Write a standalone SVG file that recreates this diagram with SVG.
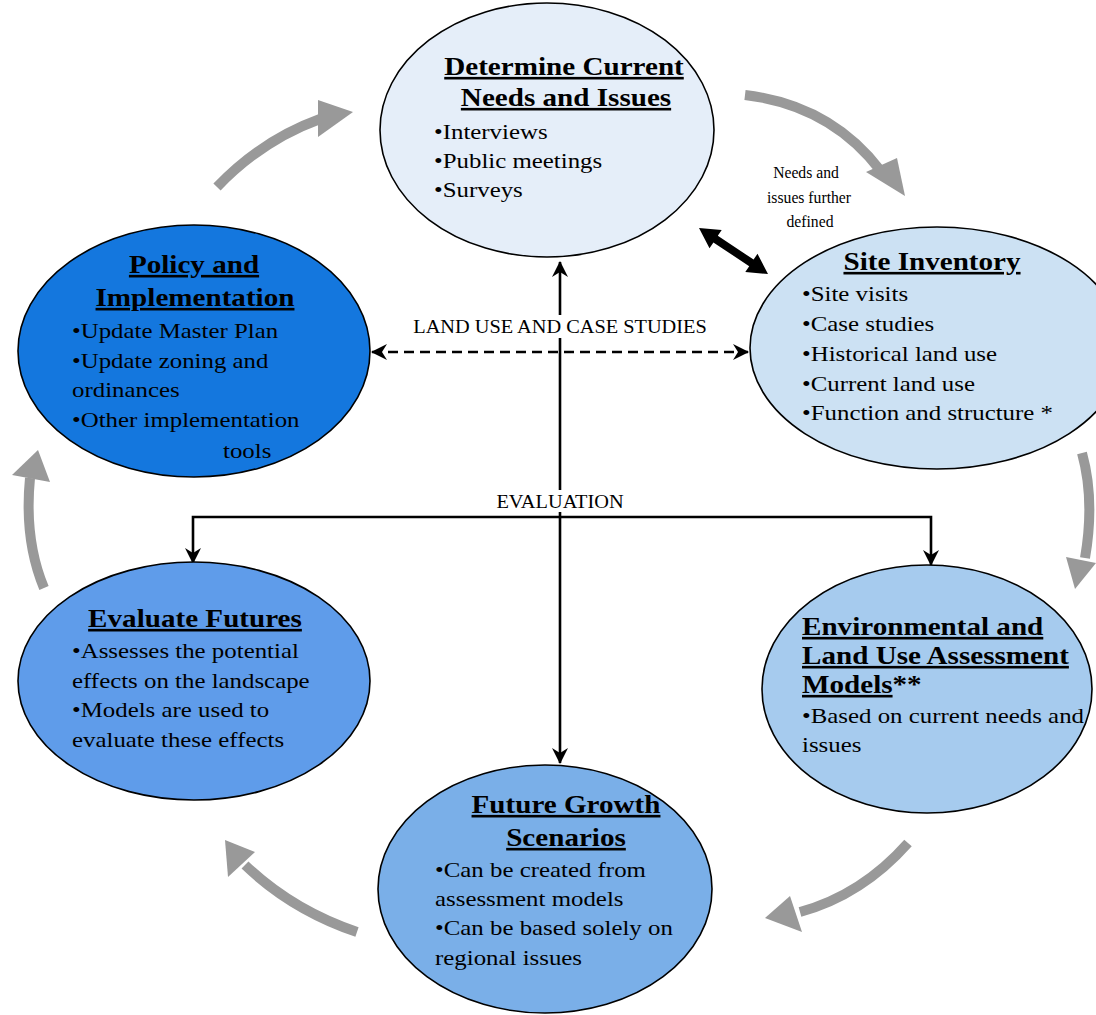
<svg xmlns="http://www.w3.org/2000/svg" width="1096" height="1015" viewBox="0 0 1096 1015">
<style>
.t{font-family:"Liberation Serif","Times New Roman",serif;fill:#000}
.title{font-size:26px;font-weight:bold;text-decoration:underline}
.body{font-size:22px}
.lbl{font-size:18px}
.small{font-size:16px}
.node{stroke:#000;stroke-width:1.6}
.conn{fill:none;stroke:#000;stroke-width:2.6}
.gray{fill:none;stroke:#999;stroke-width:10}
.ghead{fill:#999}
</style>
<defs>
<marker id="ah" viewBox="0 0 16 16" refX="15" refY="8" markerWidth="16" markerHeight="16" markerUnits="userSpaceOnUse" orient="auto-start-reverse">
<path d="M0,0 L16,8 L0,16 L5,8 z" fill="#000"/>
</marker>
</defs>
<rect width="1096" height="1015" fill="#fff"/>

<g id="cycle-arrows">
<path class="gray" d="M217,187 Q262,140 320,119"/>
<polygon class="ghead" points="318,100 353,112 318,137"/>
<path class="gray" d="M745,95 Q830,105 880,170"/>
<polygon class="ghead" points="866,172 905,196 897,158"/>
<path class="gray" d="M1082,453 Q1095,500 1085,558"/>
<polygon class="ghead" points="1066,557 1075,589 1096,563"/>
<path class="gray" d="M908,843 Q862,895 800,912"/>
<polygon class="ghead" points="790,896 765,918 802,932"/>
<path class="gray" d="M357,932 Q292,910 245,865"/>
<polygon class="ghead" points="255,852 225,840 228,877"/>
<path class="gray" d="M44,588 Q24,540 30,478"/>
<polygon class="ghead" points="12,475 38,450 50,482"/>
</g>

<g id="connectors">
<line class="conn" x1="560" y1="262" x2="560" y2="763" marker-start="url(#ah)" marker-end="url(#ah)"/>
<path class="conn" d="M193,563 V517 H931 V565" marker-start="url(#ah)" marker-end="url(#ah)"/>
<line class="conn" x1="372" y1="352" x2="748" y2="352" stroke-dasharray="10 6" marker-start="url(#ah)" marker-end="url(#ah)"/>
<polygon fill="#000" points="699,228 709.5,248.3 713.4,242.4 749.2,266.2 745.3,272.1 768,274 757.5,253.8 753.6,259.6 717.8,235.8 721.7,230"/>
<rect x="404" y="315" width="312" height="23" fill="#fff"/>
<text class="t lbl" text-anchor="middle" transform="translate(560,333) scale(1.13,1)">LAND USE AND CASE STUDIES</text>
<rect x="488" y="490" width="144" height="22" fill="#fff"/>
<text class="t lbl" text-anchor="middle" transform="translate(560,508) scale(1.13,1)">EVALUATION</text>
<text class="t small" text-anchor="middle" transform="translate(806,178) scale(0.98,1)">Needs and</text>
<text class="t small" text-anchor="middle" transform="translate(809,203) scale(0.98,1)">issues further</text>
<text class="t small" text-anchor="middle" transform="translate(810,227) scale(0.98,1)">defined</text>
</g>

<g id="node-determine">
<ellipse class="node" cx="547" cy="130" rx="167" ry="127" fill="#E5EEF9"/>
<text class="t title" text-anchor="middle" transform="translate(564,75) scale(1.12,1)">Determine Current</text>
<text class="t title" text-anchor="middle" transform="translate(566,106) scale(1.12,1)">Needs and Issues</text>
<text class="t body" transform="translate(434,139) scale(1.13,1)">•Interviews</text>
<text class="t body" transform="translate(434,168) scale(1.13,1)">•Public meetings</text>
<text class="t body" transform="translate(434,197) scale(1.13,1)">•Surveys</text>
</g>

<g id="node-policy">
<ellipse class="node" cx="194" cy="351" rx="176" ry="126" fill="#1477DE"/>
<text class="t title" text-anchor="middle" transform="translate(194,273) scale(1.12,1)">Policy and</text>
<text class="t title" text-anchor="middle" transform="translate(195,306) scale(1.12,1)">Implementation</text>
<text class="t body" transform="translate(72,338) scale(1.13,1)">•Update Master Plan</text>
<text class="t body" transform="translate(72,368) scale(1.13,1)">•Update zoning and</text>
<text class="t body" transform="translate(72,397) scale(1.13,1)">ordinances</text>
<text class="t body" transform="translate(72,427) scale(1.13,1)">•Other implementation</text>
<text class="t body" transform="translate(223,458) scale(1.13,1)">tools</text>
</g>

<g id="node-site">
<ellipse class="node" cx="937" cy="348" rx="187" ry="121" fill="#CCE1F3"/>
<text class="t title" text-anchor="middle" transform="translate(932,270) scale(1.12,1)">Site Inventory</text>
<text class="t body" transform="translate(802,301) scale(1.13,1)">•Site visits</text>
<text class="t body" transform="translate(802,331) scale(1.13,1)">•Case studies</text>
<text class="t body" transform="translate(802,361) scale(1.13,1)">•Historical land use</text>
<text class="t body" transform="translate(802,391) scale(1.13,1)">•Current land use</text>
<text class="t body" transform="translate(802,420) scale(1.13,1)">•Function and structure *</text>
</g>

<g id="node-environmental">
<ellipse class="node" cx="927" cy="689" rx="165" ry="124" fill="#A6CBEE"/>
<text class="t title" transform="translate(802,635) scale(1.12,1)">Environmental and</text>
<text class="t title" transform="translate(802,664) scale(1.12,1)">Land Use Assessment</text>
<text class="t" style="font-size:26px;font-weight:bold" transform="translate(802,693) scale(1.12,1)"><tspan style="text-decoration:underline">Models</tspan>**</text>
<text class="t body" transform="translate(802,723) scale(1.13,1)">•Based on current needs and</text>
<text class="t body" transform="translate(802,752) scale(1.13,1)">issues</text>
</g>

<g id="node-future">
<ellipse class="node" cx="545" cy="889" rx="167" ry="124" fill="#7AAFE8"/>
<text class="t title" text-anchor="middle" transform="translate(566,813) scale(1.12,1)">Future Growth</text>
<text class="t title" text-anchor="middle" transform="translate(566,846) scale(1.12,1)">Scenarios</text>
<text class="t body" transform="translate(435,877) scale(1.13,1)">•Can be created from</text>
<text class="t body" transform="translate(435,906) scale(1.13,1)">assessment models</text>
<text class="t body" transform="translate(435,935) scale(1.13,1)">•Can be based solely on</text>
<text class="t body" transform="translate(435,965) scale(1.13,1)">regional issues</text>
</g>

<g id="node-evaluate">
<ellipse class="node" cx="194" cy="681" rx="176" ry="119" fill="#5F9CEA"/>
<text class="t title" text-anchor="middle" transform="translate(195,627) scale(1.12,1)">Evaluate Futures</text>
<text class="t body" transform="translate(72,658) scale(1.13,1)">•Assesses the potential</text>
<text class="t body" transform="translate(72,688) scale(1.13,1)">effects on the landscape</text>
<text class="t body" transform="translate(72,717) scale(1.13,1)">•Models are used to</text>
<text class="t body" transform="translate(72,747) scale(1.13,1)">evaluate these effects</text>
</g>
</svg>
